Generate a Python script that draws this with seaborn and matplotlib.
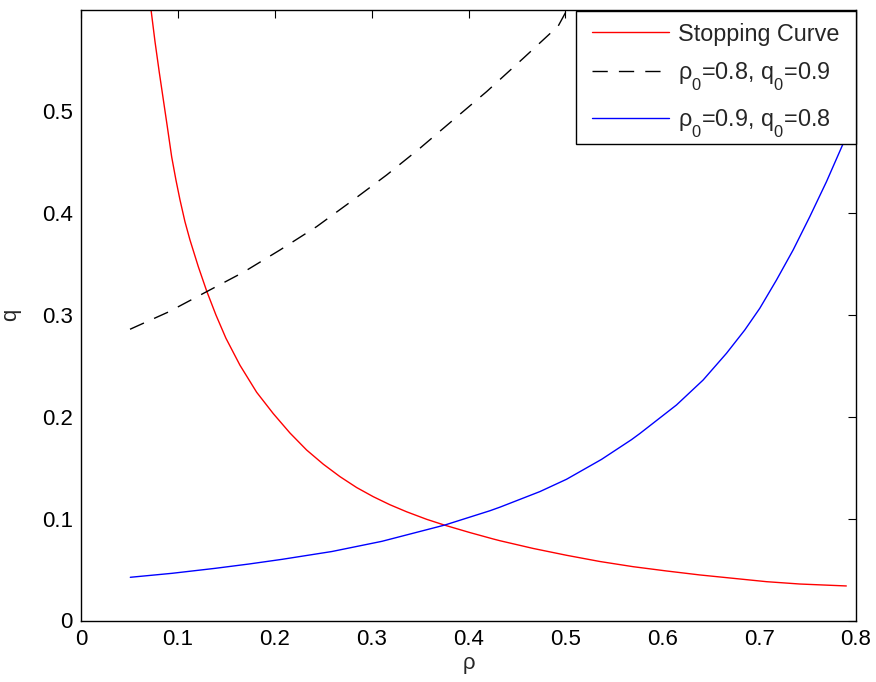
import matplotlib
matplotlib.use("Agg")
import matplotlib.pyplot as plt
from matplotlib.transforms import Bbox
import seaborn as sns
import pandas as pd

try:
    import matplotlib._mathtext as _mt
    _mt.FontConstantsBase.sub1 = 0.9
except Exception:
    pass

# ---- data ----
stop_rho = [0.065, 0.0722, 0.0764, 0.0808, 0.0850, 0.0891, 0.0936, 0.0980, 0.1022,
            0.1073, 0.1125, 0.1211, 0.1297, 0.1393, 0.1496, 0.1641, 0.1813, 0.1985,
            0.2157, 0.2329, 0.2501, 0.2673, 0.2845, 0.3017, 0.3189, 0.3361, 0.3568,
            0.3756, 0.4014, 0.4255, 0.4324, 0.4668, 0.5012, 0.5356, 0.5700, 0.6044,
            0.6388, 0.6732, 0.7076, 0.7420, 0.7900]
stop_q = [0.670, 0.600, 0.568, 0.538, 0.511, 0.4846, 0.455, 0.4323, 0.4127,
          0.3914, 0.3734, 0.3472, 0.3234, 0.2998, 0.277, 0.2505, 0.2240, 0.2030,
          0.1840, 0.1673, 0.1534, 0.1412, 0.1305, 0.1215, 0.1136, 0.1067, 0.0993,
          0.0935, 0.0863, 0.0800, 0.0783, 0.0707, 0.0640, 0.0579, 0.0528, 0.0486,
          0.0447, 0.0414, 0.0381, 0.0358, 0.0339]

a_rho = [0.0506, 0.0901, 0.1297, 0.1675, 0.2054, 0.2432, 0.2810, 0.3155, 0.3498,
         0.3842, 0.4187, 0.4565, 0.4926, 0.5050]
a_q = [0.2858, 0.3027, 0.3227, 0.3417, 0.3636, 0.3865, 0.4127, 0.4372, 0.4634,
       0.4912, 0.5190, 0.5517, 0.5834, 0.6050]

b_rho = [0.0509, 0.0939, 0.1386, 0.1731, 0.2074, 0.2590, 0.3106, 0.3756, 0.4221,
         0.4324, 0.4737, 0.5012, 0.5373, 0.5683, 0.5769, 0.6147, 0.6422, 0.6663,
         0.6852, 0.7007, 0.7179, 0.7351, 0.7523, 0.7695, 0.7861, 0.7900]
b_q = [0.0424, 0.0463, 0.0512, 0.0554, 0.0600, 0.0677, 0.0777, 0.0937, 0.1077,
       0.1112, 0.1265, 0.1386, 0.1581, 0.1775, 0.1835, 0.2115, 0.2360, 0.2622,
       0.2851, 0.3064, 0.3341, 0.3636, 0.3963, 0.4306, 0.4666, 0.4760]

labels = ["Stopping Curve", r"$\rho_0$=0.8, $q_0$=0.9", r"$\rho_0$=0.9, $q_0$=0.8"]
xticks = [0, 0.1, 0.2, 0.3, 0.4, 0.5, 0.6, 0.7, 0.8]
xticklabels = ["0", "0.1", "0.2", "0.3", "0.4", "0.5", "0.6", "0.7", "0.8"]
yticks = [0, 0.1, 0.2, 0.3, 0.4, 0.5]
yticklabels = ["0", "0.1", "0.2", "0.3", "0.4", "0.5"]

sns.set_style("white")
plt.rcParams["font.family"] = ["Liberation Sans", "DejaVu Sans"]
plt.rcParams["mathtext.fontset"] = "custom"
plt.rcParams["mathtext.rm"] = "Liberation Sans"
plt.rcParams["mathtext.it"] = "Liberation Sans"
plt.rcParams["mathtext.default"] = "regular"

fig = plt.figure(figsize=(8.76, 6.82), dpi=100)
ax = fig.add_axes([81 / 876, 1 - 620.5 / 682, (856 - 81) / 876, (620.5 - 9.5) / 682])

df_s = pd.DataFrame({"rho": stop_rho, "q": stop_q})
df_a = pd.DataFrame({"rho": a_rho, "q": a_q})
df_b = pd.DataFrame({"rho": b_rho, "q": b_q})

sns.lineplot(data=df_s, x="rho", y="q", ax=ax, color="#ff0000", lw=1.0,
             sort=False, estimator=None, label=labels[0])
sns.lineplot(data=df_a, x="rho", y="q", ax=ax, color="black", lw=1.0,
             sort=False, estimator=None, label=labels[1])
ax.lines[-1].set_dashes((11, 8))
sns.lineplot(data=df_b, x="rho", y="q", ax=ax, color="#0000ff", lw=1.0,
             sort=False, estimator=None, label=labels[2])

ax.set_xlim(0, 0.8)
ax.set_ylim(0, 0.5996)
ax.set_xticks(xticks)
ax.set_xticklabels(xticklabels)
ax.set_yticks(yticks)
ax.set_yticklabels(yticklabels)
ax.tick_params(direction="in", length=6, width=0.8, top=True, right=True,
               labelsize=16, colors="black", pad=6)
for s in ax.spines.values():
    s.set_visible(True)
    s.set_color("black")
    s.set_linewidth(1.0)

ax.set_xlabel("ρ", fontsize=16, labelpad=2)
ax.set_ylabel("q", fontsize=16, labelpad=14.5)

leg = ax.legend(loc="upper right", bbox_to_anchor=(1.0, 0.997), fontsize=16.8,
                frameon=True, fancybox=False, framealpha=1, edgecolor="black",
                handlelength=3.3, handletextpad=0.4, borderpad=0.7,
                labelspacing=0.62, borderaxespad=0)
leg.get_frame().set_linewidth(1.0)
for h in leg.get_lines():
    h.set_linewidth(1.0)

# tighter vertical padding inside the legend frame (horizontal padding kept)
try:
    _box = leg._legend_box
    _orig = _box._get_bbox_and_child_offsets

    def _patched(renderer, _orig=_orig):
        bb, offs = _orig(renderer)
        return Bbox.from_extents(bb.x0, bb.y0 + 12, bb.x1, bb.y1 - 5), offs

    _box._get_bbox_and_child_offsets = _patched
except Exception:
    pass

fig.savefig("out.png", dpi=100)
